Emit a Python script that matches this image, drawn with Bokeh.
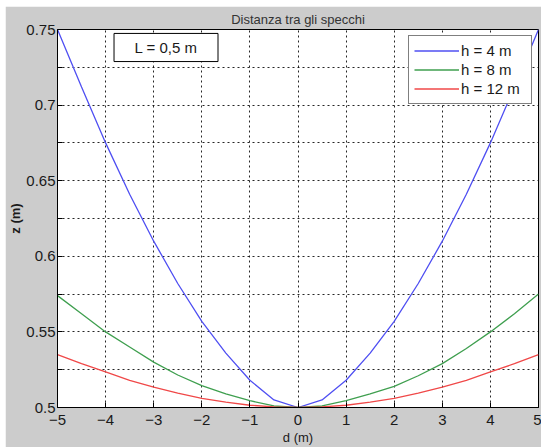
from bokeh.plotting import figure
from bokeh.models import (FixedTicker, Range1d, Legend, LegendItem,
                          BoxAnnotation, Label)
from bokeh.embed import file_html
from bokeh.resources import INLINE

# Horizontal distance d (m) and mirror height z (m) for three values of h
d = [-5, -4.5, -4, -3.5, -3, -2.5, -2, -1.5, -1, -0.5, 0,
     0.5, 1, 1.5, 2, 2.5, 3, 3.5, 4, 4.5, 5]
z_h4 = [0.750, 0.712, 0.675, 0.641, 0.610, 0.582, 0.557, 0.536, 0.518, 0.505, 0.500,
        0.505, 0.518, 0.536, 0.557, 0.582, 0.610, 0.641, 0.675, 0.712, 0.750]
z_h8 = [0.574, 0.562, 0.550, 0.540, 0.530, 0.5215, 0.5145, 0.509, 0.5045, 0.501, 0.500,
        0.501, 0.5045, 0.509, 0.514, 0.521, 0.529, 0.539, 0.550, 0.562, 0.575]
z_h12 = [0.535, 0.529, 0.5235, 0.518, 0.5135, 0.5095, 0.506, 0.5035, 0.5015, 0.5004, 0.500,
         0.5004, 0.5015, 0.5035, 0.506, 0.5095, 0.5135, 0.518, 0.5235, 0.529, 0.535]
series_labels = ["h = 4 m", "h = 8 m", "h = 12 m"]
series_colors = ["#4f4ff2", "#3f9f4f", "#f04848"]

x_ticks = [-5, -4, -3, -2, -1, 0, 1, 2, 3, 4, 5]
y_ticks = [0.5, 0.55, 0.6, 0.65, 0.7, 0.75]
y_minor = [0.525, 0.575, 0.625, 0.675, 0.725]

title_text = "Distanza tra gli specchi"
x_label = "d (m)"
y_label = "z (m)"
note_text = "L = 0,5 m"

FONT = "Liberation Sans"
INK = "#1a1a1a"

p = figure(width=536, height=441, output_backend="svg", toolbar_location=None,
           x_range=Range1d(-5, 5), y_range=Range1d(0.5, 0.75),
           title=title_text,
           min_border_left=50, min_border_right=3, min_border_top=23,
           min_border_bottom=40,
           background_fill_color="white", border_fill_color="#cccccc",
           outline_line_color="black", margin=(6, 0, 0, 5))

p.title.align = "center"
p.title.text_font = FONT
p.title.text_font_size = "13px"
p.title.text_font_style = "normal"
p.title.text_color = "#333333"
p.title.standoff = 6

p.xaxis.ticker = FixedTicker(ticks=x_ticks)
p.yaxis.ticker = FixedTicker(ticks=y_ticks, minor_ticks=y_minor)
p.xaxis.axis_label = x_label
p.yaxis.axis_label = y_label

for ax in (p.xaxis[0], p.yaxis[0]):
    ax.axis_line_color = "black"
    ax.major_tick_line_color = "black"
    ax.minor_tick_line_color = "black"
    ax.major_tick_in = 5
    ax.major_tick_out = 0
    ax.minor_tick_in = 5
    ax.minor_tick_out = 0
    ax.major_label_text_font = FONT
    ax.major_label_text_font_size = "15px"
    ax.major_label_text_color = INK
    ax.axis_label_text_font = FONT
    ax.axis_label_text_font_size = "13px"
    ax.axis_label_text_color = INK

p.xaxis.major_label_standoff = 7
p.xaxis.axis_label_standoff = 2
p.xaxis.axis_label_text_font_style = "normal"
p.yaxis.major_label_standoff = 2
p.yaxis.axis_label_standoff = 0
p.yaxis.axis_label_text_font_style = "bold"

for g in (p.xgrid[0], p.ygrid[0]):
    g.grid_line_color = "black"
    g.grid_line_dash = "2 3"
    g.grid_line_width = 1
    g.grid_line_alpha = 0.85
p.ygrid.minor_grid_line_color = "black"
p.ygrid.minor_grid_line_dash = "2 3"
p.ygrid.minor_grid_line_alpha = 0.85

renderers = []
for ys, col in zip([z_h4, z_h8, z_h12], series_colors):
    renderers.append(p.line(d, ys, line_color=col, line_width=1.3))

legend = Legend(items=[LegendItem(label=lab, renderers=[r])
                       for lab, r in zip(series_labels, renderers)],
                location="top_right", margin=6,
                border_line_color="black", border_line_width=1,
                background_fill_color="white", background_fill_alpha=1,
                label_text_font=FONT, label_text_font_size="15px",
                label_text_color=INK,
                glyph_width=45, glyph_height=19, label_height=19, label_width=65,
                spacing=0, padding=5, label_standoff=2)
p.add_layout(legend)

note_box = BoxAnnotation(left=-3.825, right=-1.663, bottom=0.7288, top=0.7474,
                         fill_color="white", fill_alpha=1,
                         line_color="black", line_width=1, line_alpha=1)
p.add_layout(note_box)
p.add_layout(Label(x=-2.744, y=0.7381, text=note_text,
                   text_align="center", text_baseline="middle",
                   text_font=FONT, text_font_size="15px", text_color=INK))

open("out.html", "w").write(file_html(p, INLINE))
